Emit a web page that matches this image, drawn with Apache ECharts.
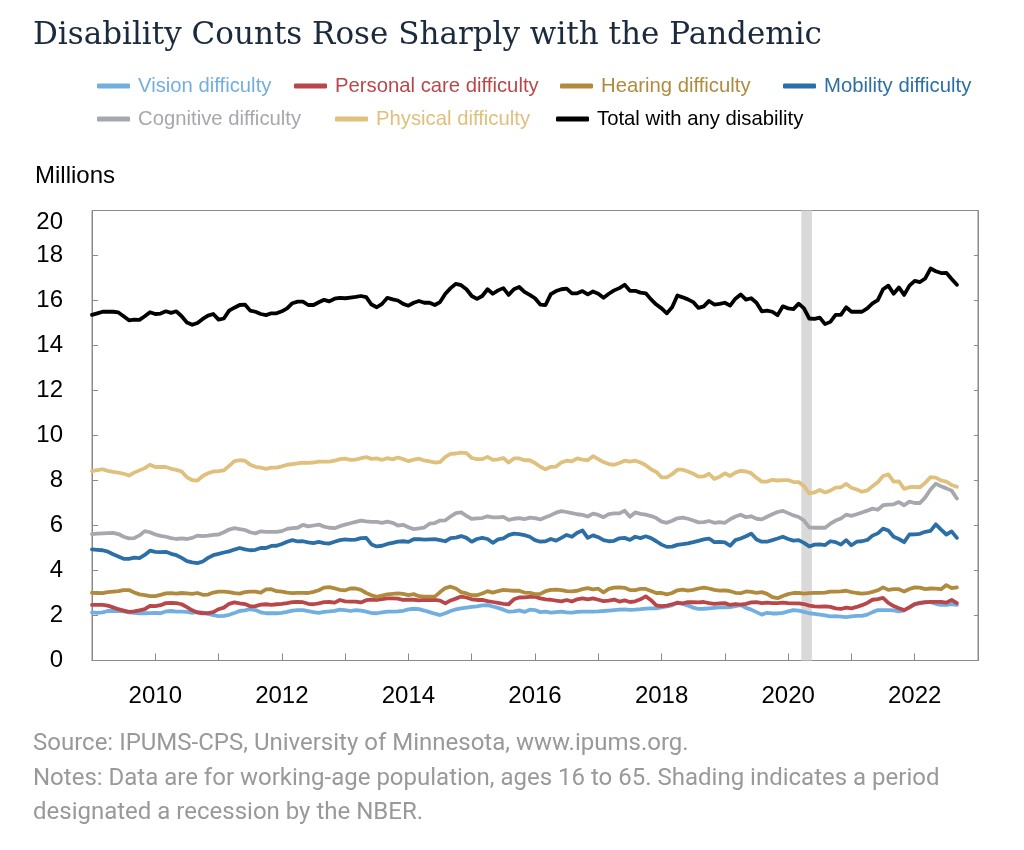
<!DOCTYPE html>
<html>
<head>
<meta charset="utf-8">
<script src="https://cdn.jsdelivr.net/npm/echarts@6/dist/echarts.min.js"></script>
<style>
html,body{margin:0;padding:0;background:#fff;}
#chart{width:1024px;height:850px;}
</style>
</head>
<body>
<div id="chart"></div>
<script>
// Monthly values, Jan 2009 .. Sep 2022 (millions)
const startYear = 2009;
const xTickLabels = [2010, 2012, 2014, 2016, 2018, 2020, 2022];
const recession = [2020 + 2.5 / 12, 2020 + 4.5 / 12];

const seriesNames = ['Vision difficulty', 'Personal care difficulty', 'Hearing difficulty',
  'Mobility difficulty', 'Cognitive difficulty', 'Physical difficulty', 'Total with any disability'];

const vision = [2.14,2.12,2.14,2.2,2.21,2.2,2.18,2.14,2.12,2.1,2.1,2.11,
2.12,2.1,2.18,2.2,2.17,2.17,2.16,2.12,2.16,2.13,2.07,2.02,
1.97,1.98,2.03,2.11,2.2,2.23,2.28,2.24,2.14,2.1,2.1,2.1,
2.12,2.16,2.22,2.24,2.24,2.19,2.15,2.12,2.16,2.18,2.21,2.26,
2.24,2.2,2.24,2.22,2.17,2.11,2.1,2.14,2.17,2.17,2.18,2.21,
2.27,2.3,2.28,2.22,2.15,2.08,2.02,2.1,2.2,2.27,2.32,2.35,
2.38,2.41,2.45,2.46,2.4,2.34,2.26,2.17,2.18,2.23,2.16,2.26,
2.24,2.15,2.17,2.13,2.15,2.17,2.14,2.13,2.16,2.17,2.17,2.17,
2.18,2.2,2.22,2.24,2.26,2.27,2.25,2.26,2.28,2.31,2.32,2.32,
2.36,2.4,2.45,2.58,2.52,2.44,2.35,2.29,2.3,2.32,2.34,2.36,
2.36,2.37,2.42,2.46,2.34,2.26,2.15,2.04,2.12,2.09,2.09,2.12,
2.18,2.24,2.22,2.16,2.1,2.07,2.04,2.01,1.96,1.97,1.95,1.93,
1.96,1.98,1.98,2.04,2.15,2.24,2.24,2.24,2.23,2.18,2.23,2.37,
2.5,2.57,2.61,2.59,2.52,2.47,2.47,2.51,2.47];

const personalCare = [2.47,2.47,2.47,2.44,2.36,2.28,2.22,2.16,2.18,2.23,2.28,2.43,
2.42,2.46,2.55,2.56,2.55,2.5,2.37,2.23,2.13,2.1,2.11,2.15,
2.28,2.35,2.52,2.58,2.54,2.51,2.41,2.42,2.48,2.5,2.47,2.5,
2.52,2.55,2.59,2.61,2.59,2.52,2.5,2.54,2.59,2.6,2.57,2.69,
2.63,2.62,2.62,2.58,2.68,2.71,2.69,2.73,2.76,2.76,2.75,2.69,
2.71,2.7,2.67,2.69,2.69,2.69,2.66,2.54,2.67,2.75,2.84,2.8,
2.72,2.69,2.69,2.64,2.6,2.56,2.52,2.5,2.72,2.8,2.81,2.83,
2.84,2.76,2.72,2.7,2.66,2.63,2.69,2.62,2.72,2.76,2.72,2.76,
2.7,2.64,2.66,2.71,2.62,2.67,2.6,2.63,2.72,2.85,2.68,2.45,
2.42,2.44,2.5,2.56,2.54,2.59,2.59,2.58,2.6,2.55,2.52,2.54,
2.55,2.47,2.51,2.48,2.52,2.58,2.59,2.55,2.57,2.55,2.55,2.57,
2.55,2.54,2.54,2.51,2.44,2.41,2.39,2.41,2.38,2.32,2.29,2.35,
2.32,2.38,2.46,2.56,2.7,2.73,2.78,2.56,2.42,2.32,2.24,2.36,
2.51,2.55,2.58,2.61,2.61,2.61,2.57,2.69,2.55];

const hearing = [3.01,3.0,2.99,3.04,3.06,3.08,3.13,3.13,3.02,2.94,2.91,2.86,
2.86,2.92,2.98,2.99,2.97,3.0,2.98,2.96,3.0,2.92,2.93,3.02,
3.06,3.06,3.04,2.99,2.97,3.04,3.06,3.06,3.02,3.16,3.17,3.08,
3.06,3.02,2.99,3.01,3.01,3.0,3.05,3.12,3.24,3.26,3.21,3.14,
3.12,3.2,3.2,3.14,3.0,2.9,2.83,2.88,2.94,2.96,2.98,2.96,
2.91,2.95,2.86,2.84,2.84,2.84,3.04,3.22,3.28,3.2,3.04,2.98,
2.9,2.9,2.98,3.08,3.02,3.08,3.14,3.12,3.1,3.1,3.02,3.01,
2.95,2.96,3.08,3.14,3.15,3.13,3.08,3.07,3.1,3.17,3.22,3.16,
3.19,3.03,3.18,3.24,3.25,3.23,3.13,3.13,3.18,3.18,3.09,3.0,
3.0,2.94,3.0,3.12,3.15,3.11,3.14,3.2,3.24,3.2,3.14,3.11,
3.12,3.08,3.01,2.99,3.07,3.05,3.01,3.04,2.96,2.82,2.77,2.87,
2.95,3.0,3.01,2.97,2.99,3.01,3.01,3.02,3.06,3.06,3.07,3.1,
3.04,3.0,2.97,2.99,3.05,3.12,3.25,3.14,3.17,3.17,3.07,3.18,
3.25,3.24,3.17,3.2,3.19,3.17,3.35,3.22,3.25];

const mobility = [4.94,4.92,4.9,4.84,4.72,4.62,4.52,4.52,4.57,4.55,4.69,4.88,
4.83,4.82,4.83,4.74,4.68,4.56,4.42,4.36,4.33,4.4,4.56,4.68,
4.74,4.8,4.85,4.93,5.0,4.94,4.9,4.92,5.0,5.0,5.09,5.1,
5.18,5.28,5.35,5.29,5.3,5.25,5.22,5.27,5.22,5.2,5.28,5.35,
5.38,5.36,5.37,5.44,5.45,5.16,5.07,5.1,5.18,5.23,5.28,5.3,
5.27,5.39,5.39,5.37,5.38,5.39,5.35,5.3,5.44,5.46,5.53,5.45,
5.28,5.4,5.45,5.4,5.23,5.38,5.43,5.57,5.64,5.62,5.57,5.5,
5.35,5.28,5.3,5.4,5.33,5.45,5.58,5.5,5.68,5.78,5.45,5.56,
5.48,5.35,5.3,5.32,5.43,5.45,5.36,5.5,5.44,5.52,5.44,5.3,
5.15,5.05,5.06,5.14,5.17,5.21,5.26,5.32,5.38,5.42,5.26,5.27,
5.25,5.1,5.35,5.42,5.52,5.64,5.38,5.28,5.28,5.35,5.42,5.5,
5.4,5.33,5.35,5.23,5.07,5.15,5.16,5.13,5.3,5.26,5.15,5.35,
5.12,5.28,5.3,5.36,5.55,5.65,5.86,5.78,5.5,5.4,5.26,5.6,
5.61,5.63,5.72,5.76,6.05,5.82,5.6,5.74,5.45];

const cognitive = [5.62,5.64,5.65,5.66,5.67,5.62,5.5,5.43,5.44,5.56,5.75,5.7,
5.6,5.54,5.5,5.44,5.4,5.43,5.4,5.45,5.55,5.53,5.55,5.58,
5.6,5.7,5.82,5.88,5.84,5.8,5.7,5.65,5.74,5.72,5.72,5.72,
5.75,5.85,5.88,5.9,6.03,5.96,6.0,6.04,5.95,5.9,5.88,5.97,
6.04,6.1,6.16,6.22,6.18,6.16,6.16,6.12,6.17,6.12,6.0,6.03,
5.92,5.84,5.87,5.91,6.08,6.11,6.22,6.23,6.4,6.55,6.58,6.43,
6.29,6.32,6.33,6.41,6.36,6.36,6.38,6.25,6.3,6.33,6.28,6.35,
6.33,6.27,6.37,6.46,6.57,6.64,6.6,6.55,6.5,6.47,6.4,6.53,
6.47,6.37,6.51,6.54,6.54,6.66,6.39,6.58,6.52,6.48,6.42,6.33,
6.17,6.12,6.21,6.32,6.35,6.3,6.22,6.14,6.15,6.2,6.12,6.15,
6.12,6.28,6.4,6.48,6.37,6.41,6.3,6.27,6.39,6.5,6.6,6.65,
6.55,6.45,6.38,6.22,5.92,5.9,5.9,5.9,6.08,6.22,6.31,6.48,
6.43,6.5,6.58,6.66,6.75,6.7,6.9,6.93,6.94,7.04,6.9,7.06,
7.0,7.0,7.25,7.6,7.86,7.74,7.65,7.55,7.2];

const physical = [8.42,8.46,8.5,8.43,8.38,8.35,8.3,8.22,8.35,8.45,8.55,8.7,
8.6,8.6,8.6,8.52,8.47,8.4,8.14,8.02,8.0,8.2,8.32,8.4,
8.42,8.45,8.65,8.86,8.9,8.88,8.7,8.61,8.57,8.52,8.57,8.57,
8.63,8.7,8.73,8.76,8.79,8.78,8.8,8.84,8.84,8.84,8.88,8.95,
8.97,8.92,8.93,8.99,9.04,8.96,8.98,8.92,8.99,8.94,9.02,8.95,
8.86,8.93,8.97,8.89,8.85,8.8,8.82,9.05,9.18,9.2,9.24,9.22,
9.0,8.95,8.95,9.05,8.92,8.94,9.0,8.8,8.98,8.98,8.9,8.9,
8.78,8.61,8.5,8.61,8.62,8.8,8.88,8.85,8.98,8.93,8.9,9.08,
8.95,8.82,8.73,8.7,8.78,8.88,8.84,8.88,8.8,8.68,8.5,8.38,
8.14,8.14,8.28,8.48,8.48,8.4,8.3,8.17,8.18,8.3,8.07,8.17,
8.32,8.2,8.35,8.43,8.4,8.33,8.12,7.95,7.95,8.03,8.0,8.02,
8.02,7.93,7.93,7.75,7.43,7.47,7.58,7.47,7.55,7.68,7.7,7.85,
7.68,7.6,7.5,7.56,7.75,7.92,8.2,8.27,7.95,7.96,7.63,7.7,
7.72,7.7,7.9,8.15,8.13,8.0,7.95,7.8,7.72];

const total = [15.36,15.43,15.5,15.5,15.5,15.47,15.3,15.12,15.15,15.14,15.3,15.48,
15.4,15.42,15.52,15.45,15.52,15.3,15.02,14.92,15.0,15.18,15.33,15.4,
15.15,15.2,15.55,15.68,15.8,15.82,15.55,15.5,15.4,15.35,15.43,15.43,
15.52,15.65,15.88,15.95,15.95,15.8,15.8,15.92,16.03,15.96,16.08,16.12,
16.1,16.13,16.16,16.2,16.15,15.82,15.7,15.85,16.12,16.05,16.0,15.85,
15.77,15.9,15.98,15.9,15.9,15.8,15.93,16.3,16.55,16.74,16.68,16.5,
16.2,16.07,16.2,16.5,16.3,16.45,16.55,16.25,16.5,16.6,16.38,16.25,
16.1,15.82,15.8,16.28,16.42,16.5,16.53,16.32,16.32,16.42,16.27,16.4,
16.3,16.12,16.3,16.45,16.55,16.7,16.43,16.43,16.35,16.32,16.05,15.82,
15.65,15.43,15.7,16.22,16.14,16.05,15.93,15.67,15.74,15.98,15.82,15.85,
15.9,15.77,16.08,16.27,16.04,16.1,15.9,15.52,15.55,15.5,15.35,15.74,
15.65,15.62,15.86,15.65,15.2,15.18,15.24,14.95,15.05,15.36,15.36,15.7,
15.5,15.5,15.5,15.65,15.87,16.02,16.5,16.66,16.3,16.58,16.25,16.66,
16.87,16.82,16.98,17.42,17.3,17.22,17.23,16.96,16.7];

const colors = ['#72afe1', '#b9474a', '#b08b3e', '#2c6fa6', '#a7a7ae', '#dfc07c', '#000000'];
const values = [vision, personalCare, hearing, mobility, cognitive, physical, total];

const toPairs = arr => arr.map((v, i) => [startYear + i / 12, v]);

const legendPos = [
  [97, 76], [294, 76], [560, 76], [783, 76],
  [97, 109], [335, 109], [556, 109]
];

const series = [{
  name: '_recession', type: 'line', data: [], z: 1, silent: true,
  markArea: {
    silent: true,
    itemStyle: { color: '#d9d9d9' },
    data: [[{ xAxis: recession[0] }, { xAxis: recession[1] }]]
  }
}];
seriesNames.forEach((name, k) => {
  series.push({
    name, type: 'line', data: toPairs(values[k]), z: 2 + k,
    showSymbol: false, symbol: 'none', smooth: false,
    lineStyle: { width: 3.8, color: colors[k], cap: 'round', join: 'round' },
    itemStyle: { color: colors[k] }
  });
});

const legends = seriesNames.map((name, k) => ({
  left: legendPos[k][0], top: legendPos[k][1], padding: 0,
  icon: 'roundRect', itemWidth: 33, itemHeight: 5,
  selectedMode: false,
  textStyle: { fontFamily: 'Liberation Sans', fontSize: 20.3, color: colors[k], padding: [0, 0, 0, 3] },
  data: [{ name }]
}));

const chart = echarts.init(document.getElementById('chart'), null, { renderer: 'canvas' });
chart.setOption({
  animation: false,
  backgroundColor: '#fff',
  legend: legends,
  grid: { left: 92, right: 46, top: 210.5, bottom: 189.5, show: true, borderColor: '#8a8a8a', borderWidth: 1, containLabel: false },
  xAxis: {
    type: 'value', min: 2009, max: 2023, interval: 1,
    axisLine: { show: true, lineStyle: { color: '#8a8a8a', width: 1 } },
    axisTick: { show: true, inside: true, length: 7, lineStyle: { color: '#8a8a8a' } },
    splitLine: { show: false },
    axisLabel: {
      margin: 24, fontFamily: 'Liberation Sans', fontSize: 24, color: '#000',
      formatter: v => xTickLabels.indexOf(Math.round(v)) >= 0 && Math.abs(v - Math.round(v)) < 1e-6 ? String(Math.round(v)) : ''
    }
  },
  yAxis: [{
    type: 'value', min: 0, max: 20, interval: 2, position: 'left',
    axisLine: { show: true, lineStyle: { color: '#8a8a8a', width: 1 } },
    axisTick: { show: true, inside: true, length: 6, lineStyle: { color: '#8a8a8a' } },
    splitLine: { show: false },
    axisLabel: { margin: 29, fontFamily: 'Liberation Sans', fontSize: 24, color: '#000',
      verticalAlignMaxLabel: 'top' }
  }, {
    type: 'value', min: 0, max: 20, interval: 2, position: 'right',
    axisLine: { show: true, lineStyle: { color: '#8a8a8a', width: 1 } },
    axisTick: { show: true, inside: true, length: 4, lineStyle: { color: '#8a8a8a' } },
    splitLine: { show: false },
    axisLabel: { show: false }
  }],
  series,
  graphic: [
    { type: 'text', x: 33, y: 36, style: { text: 'Disability Counts Rose Sharply with the Pandemic', fontFamily: 'DejaVu Serif', fontSize: 31, fill: '#1b2a3d', verticalAlign: 'middle', align: 'left' } },
    { type: 'text', x: 35, y: 176, style: { text: 'Millions', fontFamily: 'Liberation Sans', fontSize: 24, fill: '#000', verticalAlign: 'middle', align: 'left' } },
    { type: 'text', x: 33, y: 744, style: { text: 'Source: IPUMS-CPS, University of Minnesota, www.ipums.org.', fontFamily: 'Roboto', fontSize: 24, fill: '#999999', verticalAlign: 'middle', align: 'left' } },
    { type: 'text', x: 33, y: 779, style: { text: 'Notes: Data are for working-age population, ages 16 to 65. Shading indicates a period', fontFamily: 'Roboto', fontSize: 24, fill: '#999999', verticalAlign: 'middle', align: 'left' } },
    { type: 'text', x: 33, y: 813, style: { text: 'designated a recession by the NBER.', fontFamily: 'Roboto', fontSize: 24, fill: '#999999', verticalAlign: 'middle', align: 'left' } }
  ]
});
</script>
</body>
</html>
